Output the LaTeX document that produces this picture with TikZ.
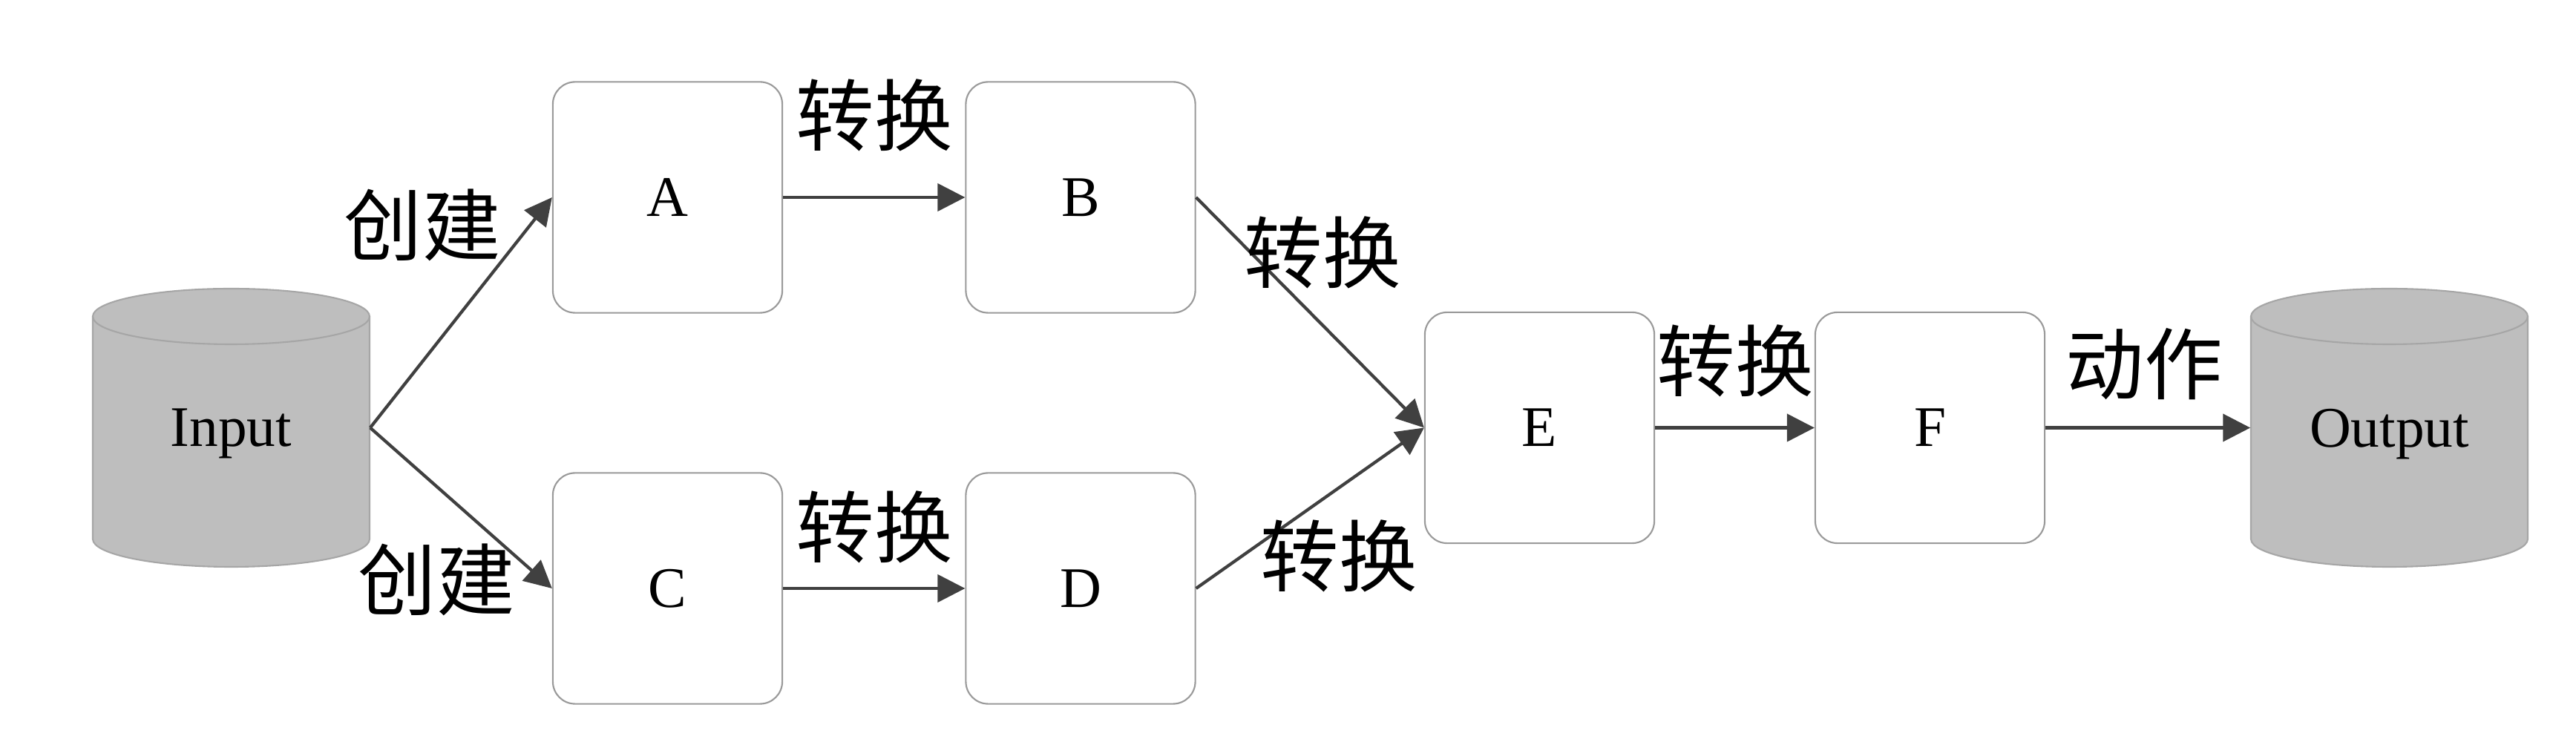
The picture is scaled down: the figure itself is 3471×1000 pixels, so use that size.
\documentclass[tikz,border=0pt]{standalone}
\usepackage{fontspec}
\setmainfont{Liberation Serif}
\newfontfamily\cjk{Noto Sans CJK SC}
\usetikzlibrary{arrows.meta}
\definecolor{linecol}{HTML}{404040}
\definecolor{boxcol}{HTML}{9A9A9A}
\definecolor{cylfill}{HTML}{BEBEBE}
\definecolor{cylline}{HTML}{A6A6A6}
\tikzset{
  stepbox/.style={draw=boxcol, line width=0.6pt, rounded corners=0.3cm, fill=white,
    minimum width=3.09cm, minimum height=3.11cm, inner sep=0pt,
    font=\fontsize{22pt}{26pt}\selectfont},
  cylnode/.style={minimum width=3.73cm, minimum height=3.75cm, inner sep=0pt, text depth=0pt,
    font=\fontsize{22pt}{26pt}\selectfont},
  lab/.style={inner sep=0pt, font=\cjk\fontsize{30pt}{36pt}\selectfont},
  conn/.style={draw=linecol, line width=1.2pt, -{Triangle[length=10.5pt,width=10.5pt]}, fill=linecol}
}
\begin{document}
\begin{tikzpicture}[x=0.01cm, y=0.01cm]
\useasboundingbox (0,0) rectangle (3471,1000);
% cylinders
\fill[cylfill] (125,573.5) -- (125,273.5) arc[start angle=180, end angle=360, x radius=186.5, y radius=37.5] -- (498,573.5) arc[start angle=0, end angle=180, x radius=186.5, y radius=37.5] -- cycle;
\draw[cylline, line width=0.6pt] (125,573.5) -- (125,273.5) arc[start angle=180, end angle=360, x radius=186.5, y radius=37.5] -- (498,573.5) arc[start angle=0, end angle=180, x radius=186.5, y radius=37.5] -- cycle;
\draw[cylline, line width=0.6pt] (125,573.5) arc[start angle=180, end angle=360, x radius=186.5, y radius=37.5];
\node[cylnode] (in) at (311.5,423.5) {Input};
\fill[cylfill] (3033,573.5) -- (3033,273.5) arc[start angle=180, end angle=360, x radius=186.5, y radius=37.5] -- (3406,573.5) arc[start angle=0, end angle=180, x radius=186.5, y radius=37.5] -- cycle;
\draw[cylline, line width=0.6pt] (3033,573.5) -- (3033,273.5) arc[start angle=180, end angle=360, x radius=186.5, y radius=37.5] -- (3406,573.5) arc[start angle=0, end angle=180, x radius=186.5, y radius=37.5] -- cycle;
\draw[cylline, line width=0.6pt] (3033,573.5) arc[start angle=180, end angle=360, x radius=186.5, y radius=37.5];
\node[cylnode] (out) at (3219.5,423.5) {Output};
% boxes
\node[stepbox] (A) at (899.5,734) {A};
\node[stepbox] (B) at (1456,734) {B};
\node[stepbox] (C) at (899.5,207) {C};
\node[stepbox] (D) at (1456,207) {D};
\node[stepbox] (E) at (2074.5,423.5) {E};
\node[stepbox] (F) at (2600.5,423.5) {F};
% connectors
\draw[conn] (in.east) -- (A.west);
\draw[conn] (in.east) -- (C.west);
\draw[conn] (A.east) -- (B.west);
\draw[conn] (C.east) -- (D.west);
\draw[conn] (B.east) -- (E.west);
\draw[conn] (D.east) -- (E.west);
\draw[conn] (E.east) -- (F.west);
\draw[conn] (F.east) -- (out.west);
% labels
\node[lab] (l1) at (569,697) {创建};
\node[lab] (l2) at (588,219) {创建};
\node[lab] (l3) at (1178,845) {转换};
\node[lab] (l4) at (1178,290) {转换};
\node[lab] (l5) at (1782,660) {转换};
\node[lab] (l6) at (1804,251) {转换};
\node[lab] (l7) at (2338,514) {转换};
\node[lab] (l8) at (2889,509) {动作};
\end{tikzpicture}
\end{document}
